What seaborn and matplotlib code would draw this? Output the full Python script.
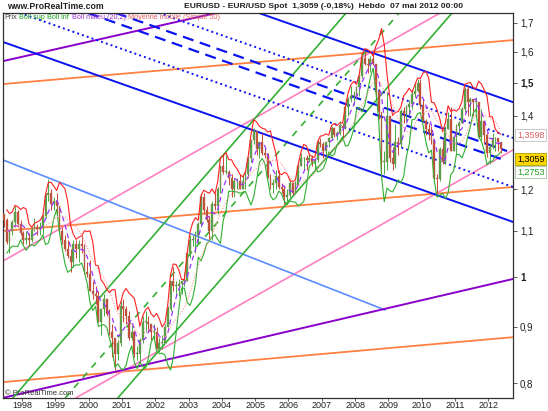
import numpy as np
import pandas as pd
import matplotlib
matplotlib.use('Agg')
import matplotlib.pyplot as plt
import seaborn as sns

sns.set_theme(style='white')
plt.rcParams['font.family'] = ['Liberation Sans', 'DejaVu Sans']

# --- monthly EUR/USD (synthetic before 1999), Jun 1997 -> 1st week May 2012 ---
first_month = '1997-06'
first_open = 1.140
close = [
    1.125, 1.075, 1.100, 1.120, 1.145, 1.115, 1.095,
    1.080, 1.085, 1.080, 1.105, 1.110, 1.105, 1.110, 1.135, 1.185, 1.190, 1.165, 1.170,
    1.160, 1.100, 1.080, 1.060, 1.045, 1.030, 1.070, 1.060, 1.070, 1.065, 1.010, 1.005,
    0.970, 0.965, 0.960, 0.910, 0.935, 0.955, 0.925, 0.890, 0.880, 0.850, 0.870, 0.940,
    0.935, 0.920, 0.880, 0.890, 0.850, 0.850, 0.875, 0.910, 0.910, 0.905, 0.890, 0.890,
    0.860, 0.870, 0.870, 0.900, 0.935, 0.990, 0.980, 0.980, 0.985, 0.990, 0.990, 1.050,
    1.080, 1.080, 1.090, 1.115, 1.180, 1.150, 1.125, 1.100, 1.165, 1.160, 1.200, 1.260,
    1.245, 1.245, 1.230, 1.200, 1.220, 1.220, 1.200, 1.220, 1.240, 1.280, 1.330, 1.355,
    1.305, 1.325, 1.295, 1.290, 1.230, 1.210, 1.215, 1.235, 1.205, 1.200, 1.180, 1.185,
    1.215, 1.190, 1.210, 1.260, 1.280, 1.280, 1.275, 1.280, 1.270, 1.275, 1.325, 1.320,
    1.300, 1.325, 1.335, 1.365, 1.345, 1.350, 1.370, 1.365, 1.425, 1.450, 1.460, 1.460,
    1.485, 1.520, 1.580, 1.560, 1.555, 1.575, 1.560, 1.470, 1.410, 1.270, 1.270, 1.400,
    1.280, 1.265, 1.325, 1.320, 1.415, 1.405, 1.425, 1.435, 1.465, 1.475, 1.500, 1.430,
    1.385, 1.360, 1.350, 1.330, 1.230, 1.225, 1.305, 1.270, 1.360, 1.390, 1.300, 1.340,
    1.370, 1.380, 1.420, 1.480, 1.440, 1.450, 1.440, 1.440, 1.340, 1.385, 1.345, 1.295,
    1.310, 1.335, 1.335, 1.325, 1.306,
]
high = [
    1.140, 1.130, 1.100, 1.125, 1.160, 1.150, 1.125,
    1.100, 1.100, 1.095, 1.110, 1.130, 1.115, 1.120, 1.140, 1.190, 1.225, 1.200, 1.180,
    1.190, 1.160, 1.110, 1.090, 1.080, 1.060, 1.080, 1.080, 1.080, 1.090, 1.070, 1.030,
    1.035, 0.990, 0.980, 0.970, 0.935, 0.965, 0.955, 0.935, 0.905, 0.875, 0.875, 0.950,
    0.955, 0.940, 0.930, 0.905, 0.895, 0.865, 0.880, 0.920, 0.930, 0.920, 0.905, 0.905,
    0.900, 0.880, 0.885, 0.905, 0.940, 0.990, 1.020, 0.990, 0.995, 0.990, 1.010, 1.050,
    1.090, 1.090, 1.100, 1.120, 1.190, 1.190, 1.160, 1.135, 1.170, 1.190, 1.205, 1.260,
    1.290, 1.290, 1.250, 1.240, 1.230, 1.230, 1.240, 1.240, 1.245, 1.285, 1.330, 1.365,
    1.350, 1.325, 1.350, 1.310, 1.295, 1.240, 1.225, 1.250, 1.250, 1.215, 1.210, 1.200,
    1.225, 1.215, 1.220, 1.265, 1.295, 1.285, 1.290, 1.295, 1.290, 1.280, 1.330, 1.335,
    1.325, 1.325, 1.340, 1.370, 1.360, 1.355, 1.385, 1.380, 1.425, 1.455, 1.490, 1.475,
    1.490, 1.525, 1.590, 1.600, 1.580, 1.585, 1.604, 1.560, 1.480, 1.410, 1.300, 1.470,
    1.400, 1.310, 1.375, 1.340, 1.420, 1.425, 1.430, 1.445, 1.475, 1.500, 1.510, 1.510,
    1.450, 1.390, 1.380, 1.370, 1.330, 1.240, 1.310, 1.330, 1.370, 1.410, 1.425, 1.345,
    1.375, 1.385, 1.425, 1.485, 1.490, 1.455, 1.450, 1.455, 1.440, 1.420, 1.385, 1.350,
    1.320, 1.350, 1.340, 1.325, 1.326,
]
low = [
    1.110, 1.070, 1.050, 1.090, 1.110, 1.110, 1.090,
    1.070, 1.070, 1.065, 1.075, 1.100, 1.090, 1.090, 1.090, 1.130, 1.170, 1.150, 1.150,
    1.130, 1.095, 1.070, 1.055, 1.040, 1.010, 1.020, 1.040, 1.030, 1.050, 1.005, 1.000,
    0.970, 0.955, 0.945, 0.910, 0.885, 0.920, 0.920, 0.885, 0.845, 0.823, 0.840, 0.865,
    0.910, 0.905, 0.875, 0.875, 0.845, 0.840, 0.835, 0.870, 0.890, 0.890, 0.875, 0.875,
    0.860, 0.855, 0.860, 0.870, 0.900, 0.930, 0.970, 0.960, 0.960, 0.965, 0.980, 0.990,
    1.040, 1.065, 1.050, 1.070, 1.110, 1.140, 1.120, 1.080, 1.080, 1.150, 1.140, 1.190,
    1.240, 1.240, 1.210, 1.180, 1.180, 1.200, 1.200, 1.200, 1.200, 1.230, 1.270, 1.320,
    1.290, 1.280, 1.290, 1.280, 1.230, 1.200, 1.190, 1.200, 1.200, 1.190, 1.165, 1.170,
    1.180, 1.185, 1.190, 1.210, 1.260, 1.250, 1.250, 1.270, 1.260, 1.250, 1.270, 1.310,
    1.280, 1.290, 1.310, 1.330, 1.340, 1.330, 1.345, 1.330, 1.360, 1.400, 1.440, 1.430,
    1.450, 1.460, 1.515, 1.555, 1.530, 1.535, 1.555, 1.460, 1.390, 1.230, 1.240, 1.250,
    1.270, 1.250, 1.255, 1.290, 1.310, 1.380, 1.385, 1.400, 1.420, 1.455, 1.470, 1.420,
    1.385, 1.345, 1.330, 1.320, 1.220, 1.190, 1.220, 1.265, 1.265, 1.360, 1.300, 1.300,
    1.290, 1.345, 1.380, 1.410, 1.400, 1.400, 1.400, 1.410, 1.335, 1.330, 1.320, 1.285,
    1.265, 1.305, 1.300, 1.300, 1.296,
]

# trend lines drawn on the chart: (year0, price0, year1, price1)
blue_solid = [(2005.11, 1.735, 2012.74, 1.440), (1997.43, 1.633, 2012.74, 1.121)]
blue_dotted = [(2002.11, 1.735, 2012.74, 1.336), (1997.94, 1.735, 2012.74, 1.206)]
blue_dashed = [(2000.82, 1.735, 2012.56, 1.300), (1999.98, 1.735, 2012.56, 1.273)]
light_blue = [(1997.43, 1.276, 2008.90, 0.9325)]
orange = [(1997.43, 1.4955, 2012.74, 1.6395), (1997.43, 1.100, 2012.74, 1.206),
          (1997.43, 0.802, 2012.74, 0.881)]
purple = [(1997.43, 1.569, 2003.82, 1.735), (1997.43, 0.776, 2012.74, 0.995)]
pink = [(1997.43, 1.033, 2010.55, 1.735), (1999.62, 0.776, 2012.74, 1.303)]
green_solid = [(1997.73, 0.776, 2007.73, 1.735), (2000.88, 0.776, 2010.91, 1.735)]
green_dashed = [(1999.30, 0.776, 2009.32, 1.735)]

years = list(range(1998, 2013))
y_ticks = [0.8, 0.9, 1.0, 1.1, 1.2, 1.4, 1.5, 1.6, 1.7]
y_labels = ['0,8', '0,9', '1', '1,1', '1,2', '1,4', '1,5', '1,6', '1,7']
bold_ticks = ['1', '1,5']
tags = [('1,3598', 1.3598), ('1,3059', 1.3059), ('1,2753', 1.2753)]

# --- frame ---
months = pd.period_range(first_month, periods=len(close), freq='M')
df = pd.DataFrame({'close': close, 'high': high, 'low': low})
df['x'] = months.year + (months.month - 0.5) / 12
df['open'] = df['close'].shift(1).fillna(first_open)
df['high'] = df[['high', 'open', 'close']].max(axis=1)
df['low'] = df[['low', 'open', 'close']].min(axis=1)
# Bollinger (20 weeks ~ 5 months) and MA (50 weeks ~ 12 months)
roll = df['close'].rolling(5, min_periods=2)
df['mid'] = roll.mean()
df['up'] = df['mid'] + 2 * roll.std(ddof=0)
df['dn'] = df['mid'] - 2 * roll.std(ddof=0)
df['ma'] = df['close'].rolling(12, min_periods=2).mean()

W, H = 548, 411
fig = plt.figure(figsize=(W / 100, H / 100), dpi=100)
ax = fig.add_axes([3 / W, 1 - 398 / H, 510 / W, 385 / H])
ax.set_yscale('log')

# trend lines
def draw(lines, color, lw, ls='-'):
    for x0, p0, x1, p1 in lines:
        ax.plot([x0, x1], [p0, p1], color=color, lw=lw, ls=ls, zorder=2)

draw(orange, '#ff8040', 1.3)
draw(pink, '#ff80c0', 1.2)
draw(light_blue, '#5b8cff', 1.2)
draw(purple, '#8a00cc', 1.4)
draw(green_solid, '#33b033', 1.2)
draw(green_dashed, '#33b033', 1.2, (0, (4, 4)))
draw(blue_solid, '#0a14f0', 1.4)
draw(blue_dotted, '#0a14f0', 1.4, (0, (1, 1.6)))
draw(blue_dashed, '#0a14f0', 1.6, (0, (5, 3)))

# candles
up = df['close'] >= df['open']
ccol = np.where(up, '#44aa44', '#cc4433')
ax.vlines(df['x'], df['low'], df['high'], colors=ccol, lw=0.7, zorder=3)
ax.bar(df['x'], (df['close'] - df['open']).abs().clip(lower=0.002),
       bottom=df[['open', 'close']].min(axis=1), width=0.055, color=ccol,
       edgecolor='#9a7a5a', linewidth=0.3, zorder=3)

# indicators
sns.lineplot(data=df, x='x', y='up', ax=ax, color='#ff2020', lw=0.8, zorder=4)
sns.lineplot(data=df, x='x', y='dn', ax=ax, color='#30b030', lw=0.8, zorder=4)
sns.lineplot(data=df, x='x', y='mid', ax=ax, color='#9933ff', lw=0.9,
             linestyle=(0, (4, 3)), zorder=4)
sns.lineplot(data=df, x='x', y='ma', ax=ax, color='#ff9090', lw=0.8,
             linestyle=(0, (1, 1.5)), zorder=4)

ax.set_xlim(1997.43, 2012.74)
ax.set_ylim(0.7758, 1.735)
ax.set_xlabel('')
ax.set_ylabel('')

ax.set_xticks(years)
ax.set_xticklabels([str(y) for y in years], fontsize=6.5, color='#202020')
ax.yaxis.tick_right()
ax.minorticks_off()
ax.set_yticks(y_ticks)
ax.set_yticklabels(y_labels, fontsize=7, color='#202020')
for t in ax.get_yticklabels():
    if t.get_text() in bold_ticks:
        t.set_fontweight('bold')
ax.tick_params(axis='y', length=3, width=0.6, color='#404040', pad=2,
               right=True, left=False)
ax.tick_params(axis='x', length=2, width=0.6, color='#404040', pad=0.5, bottom=True)
for s in ax.spines.values():
    s.set_color('#303030')
    s.set_linewidth(0.9)
ax.grid(False)

# header
fig.text(7 / W, 1 - 6.5 / H, 'www.ProRealTime.com', fontsize=6.3, weight='bold',
         color='#202020', va='center')
fig.text(184 / W, 1 - 6.5 / H,
         'EURUSD - EUR/USD Spot  1,3059 (-0,18%)  Hebdo  07 mai 2012 00:00',
         fontsize=6.1, weight='bold', color='#202020', va='center')

# legend line inside the plot
legend = [('Prix', '#404040'), ('Boll sup', '#22a022'), ('Boll inf', '#22a022'),
          ('Boll milieu (20,2)', '#9933cc'), ('Moyenne mobile (Simple 50)', '#e06060')]
fig.canvas.draw()
r = fig.canvas.get_renderer()
xpos = 4
for txt, col in legend:
    t = fig.text(xpos / W, 1 - 17.5 / H, txt, fontsize=5.2, color=col, va='center')
    xpos += t.get_window_extent(r).width + 2.5

fig.text(5 / W, 1 - 393 / H, '\u00a9 ProRealTime.com', fontsize=5.5, color='#303030',
         va='center')

# price tags on the right axis
tag_y = [135, 159, 172]
tag_style = [('white', '#e06060', '#c0c0c0'), ('#ffd700', '#000000', '#b0a000'),
             ('white', '#22a022', '#a0c0a0')]
for (txt, _), y, (fc, tc, ec) in zip(tags, tag_y, tag_style):
    fig.text(517 / W, 1 - y / H, txt, fontsize=6.5, color=tc, va='center',
             bbox=dict(boxstyle='square,pad=0.2', fc=fc, ec=ec, lw=0.6))

fig.savefig('out.png', dpi=100)
